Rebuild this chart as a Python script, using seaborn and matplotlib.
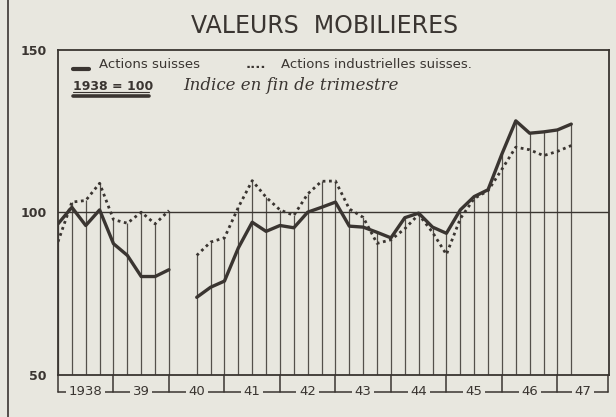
import numpy as np
import pandas as pd
import seaborn as sns
import matplotlib.pyplot as plt
from matplotlib.lines import Line2D

# quarter-end index values, first point = end of 1937, q9 (1940 Q1) missing
actions_suisses = [96.5, 101.6, 96.0, 100.8, 90.4, 86.8, 80.3, 80.3, 82.4, np.nan,
                   73.9, 77.0, 78.9, 89.1, 97.0, 94.2, 96.0, 95.3, 100.1, 101.6,
                   103.2, 95.8, 95.5, 93.9, 92.2, 98.4, 99.8, 95.5, 93.6, 100.8,
                   104.9, 107.0, 118.0, 128.2, 124.4, 124.8, 125.4, 127.2]
actions_industrielles = [91.0, 103.2, 103.7, 109.0, 97.8, 96.7, 100.1, 96.5, 100.6, np.nan,
                         86.8, 90.9, 92.2, 101.6, 109.8, 104.7, 100.8, 99.1, 105.7, 109.6,
                         109.7, 101.1, 98.5, 90.5, 91.6, 95.0, 99.4, 93.9, 87.1, 98.1,
                         104.3, 106.7, 113.3, 120.1, 119.3, 117.5, 118.8, 120.6]
years = ["1938", "39", "40", "41", "42", "43", "44", "45", "46", "47"]
yticks = [50, 100, 150]

BG = "#e8e7df"
INK = "#3a3531"
W, H = 616, 417


def px(x, y):
    """ pixel position in the reference -> figure fraction """
    return x / W, 1 - y / H


def main():
    sns.set_theme(style="white", rc={"axes.facecolor": BG, "figure.facecolor": BG,
                                     "axes.edgecolor": INK, "axes.linewidth": 1.3})
    plt.rcParams["font.family"] = ["DejaVu Sans"]

    q = np.arange(len(actions_suisses))
    segment = np.cumsum(np.isnan(actions_suisses))
    df = pd.DataFrame({"trimestre": q, "suisses": actions_suisses,
                       "industrielles": actions_industrielles, "segment": segment})
    df = df.dropna()

    fig = plt.figure(figsize=(W / 100, H / 100), dpi=100)
    ax = fig.add_axes([58 / W, 1 - 375 / H, (609 - 58) / W, (375 - 50) / H])

    # verticals from the base to the higher of both series
    top = df[["suisses", "industrielles"]].max(axis=1)
    ax.vlines(df["trimestre"], 50, top, color=INK, lw=0.9, alpha=0.85)
    ax.axhline(100, color=INK, lw=1.0)

    sns.lineplot(data=df, x="trimestre", y="industrielles", units="segment", estimator=None,
                 color=INK, lw=2.0, linestyle=(0, (1, 1.3)), ax=ax)
    sns.lineplot(data=df, x="trimestre", y="suisses", units="segment", estimator=None,
                 color=INK, lw=2.4, ax=ax)

    ax.set_xlim(0, 39.72)
    ax.set_ylim(50, 150)
    ax.set_yticks(yticks)
    ax.set_yticklabels([str(t) for t in yticks], fontsize=9, color=INK, fontweight="bold")
    ax.tick_params(axis="y", length=0, pad=8)
    ax.set_xticks([])
    ax.set_xlabel("")
    ax.set_ylabel("")
    for s in ax.spines.values():
        s.set_visible(True)

    # year brackets under the axis
    tr = ax.get_xaxis_transform()
    yb = -0.052
    x_end = 39.65
    seps = list(range(0, 40, 4)) + [x_end]
    ax.plot([0, x_end], [yb, yb], color=INK, lw=1.1, transform=tr, clip_on=False)
    for s in seps:
        ax.plot([s, s], [0, yb], color=INK, lw=1.1, transform=tr, clip_on=False)
    for i, label in enumerate(years):
        xc = (seps[i] + seps[i + 1]) / 2
        ax.text(xc, yb, label, transform=tr, ha="center", va="center", fontsize=9.5,
                color=INK, bbox=dict(facecolor=BG, edgecolor="none", pad=2.0))

    # title and legend lettering
    fig.text(*px(325, 26), "VALEURS  MOBILIERES", ha="center", va="center",
             fontsize=17, color=INK)
    fig.add_artist(Line2D([8 / W, 8 / W], [0, 1], color=INK, lw=1.2))

    fig.add_artist(Line2D([73 / W, 89 / W], [1 - 69 / H] * 2, color=INK, lw=3))
    fig.text(*px(99, 65), "Actions suisses", ha="left", va="center", fontsize=9.5, color=INK)
    fig.text(*px(246, 65), "....", ha="left", va="center", fontsize=9.5, color=INK,
             fontweight="bold")
    fig.text(*px(281, 65), "Actions industrielles suisses.", ha="left", va="center",
             fontsize=9.5, color=INK)
    fig.text(*px(73, 86), "1938 = 100", ha="left", va="center", fontsize=9, color=INK,
             fontweight="bold")
    fig.add_artist(Line2D([73 / W, 149 / W], [1 - 92 / H] * 2, color=INK, lw=0.8))
    fig.add_artist(Line2D([73 / W, 149 / W], [1 - 96 / H] * 2, color=INK, lw=2.6))
    fig.text(*px(183, 86), "Indice en fin de trimestre", ha="left", va="center",
             fontsize=12, color=INK, family="DejaVu Serif", style="italic")

    plt.savefig("out.png", dpi=100, facecolor=BG)


if __name__ == '__main__':
    main()
